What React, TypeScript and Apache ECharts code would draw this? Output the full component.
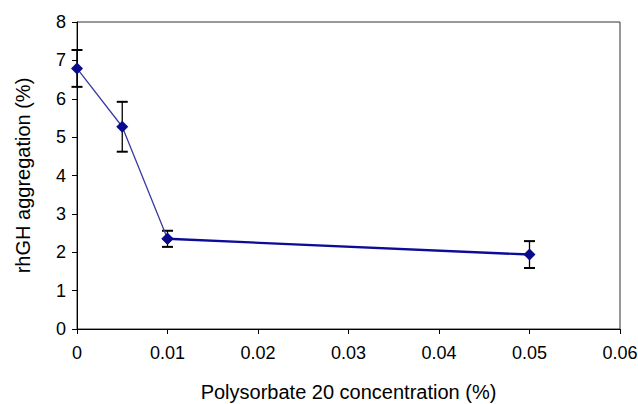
import React, { useEffect, useRef } from "react";
import * as echarts from "echarts";

const concentrations = [0, 0.005, 0.01, 0.05];
const aggregation = [6.79, 5.27, 2.35, 1.94];
const errors = [0.48, 0.65, 0.21, 0.35];
const xTicks = [0, 0.01, 0.02, 0.03, 0.04, 0.05, 0.06];

export default function App() {
  const ref = useRef<HTMLDivElement>(null);
  useEffect(() => {
    if (!ref.current) return;
    const chart = echarts.init(ref.current, undefined, { renderer: "svg" });
    const font = "Liberation Sans, Arial, sans-serif";
    const points = concentrations.map((x, i) => [x, aggregation[i]]);
    const steep = points.slice(0, 3);
    const flat = points.slice(2);
    const errData = concentrations.map((x, i) => [x, aggregation[i] - errors[i], aggregation[i] + errors[i]]);
    chart.setOption({
      animation: false,
      backgroundColor: "#fff",
      grid: {
        left: 77, right: 18, top: 22, bottom: 75,
        containLabel: false, outerBoundsMode: "none",
        show: true, borderColor: "#333", borderWidth: 1,
      },
      xAxis: {
        type: "value",
        min: xTicks[0],
        max: xTicks[xTicks.length - 1],
        interval: 0.01,
        name: "Polysorbate 20 concentration (%)",
        nameLocation: "middle",
        nameGap: 53,
        nameTextStyle: { fontFamily: font, fontSize: 20, color: "#000" },
        axisLine: { show: true, lineStyle: { color: "#000", width: 1 } },
        axisTick: { show: true, length: 5, lineStyle: { color: "#000" } },
        axisLabel: {
          fontFamily: font, fontSize: 18, color: "#000", margin: 15,
          formatter: (v: number) => String(+v.toFixed(2)),
        },
        splitLine: { show: false },
      },
      yAxis: {
        type: "value",
        min: 0,
        max: 8,
        interval: 1,
        name: "rhGH aggregation (%)",
        nameLocation: "middle",
        nameGap: 44,
        nameRotate: 90,
        nameTextStyle: { fontFamily: font, fontSize: 20, color: "#000" },
        axisLine: { show: true, lineStyle: { color: "#000", width: 1 } },
        axisTick: { show: true, length: 5, lineStyle: { color: "#000" } },
        axisLabel: { fontFamily: font, fontSize: 18, color: "#000", margin: 11 },
        splitLine: { show: false },
      },
      series: [
        {
          type: "line",
          data: steep,
          symbol: "diamond",
          symbolSize: 12,
          itemStyle: { color: "#0a0a8c" },
          lineStyle: { color: "#3a3aa0", width: 1.3 },
          z: 3,
        },
        {
          type: "line",
          data: flat,
          symbol: "diamond",
          symbolSize: 12,
          itemStyle: { color: "#0a0a8c" },
          lineStyle: { color: "#0c0c98", width: 2.4 },
          z: 3,
        },
        {
          type: "custom",
          data: errData,
          z: 2,
          renderItem: (params: any, api: any) => {
            const x = api.value(0);
            const lo = api.coord([x, api.value(1)]);
            const hi = api.coord([x, api.value(2)]);
            const hw = 5.5;
            const style = { stroke: "#000", lineWidth: 2 };
            return {
              type: "group",
              children: [
                { type: "line", shape: { x1: lo[0], y1: lo[1], x2: hi[0], y2: hi[1] }, style: { stroke: "#000", lineWidth: 1.3 } },
                { type: "line", shape: { x1: lo[0] - hw, y1: lo[1], x2: lo[0] + hw, y2: lo[1] }, style },
                { type: "line", shape: { x1: hi[0] - hw, y1: hi[1], x2: hi[0] + hw, y2: hi[1] }, style },
              ],
            };
          },
        },
      ],
    });
    return () => chart.dispose();
  }, []);
  return <div ref={ref} style={{ position: "fixed", left: 0, top: 0, width: 638, height: 404 }} />;
}
